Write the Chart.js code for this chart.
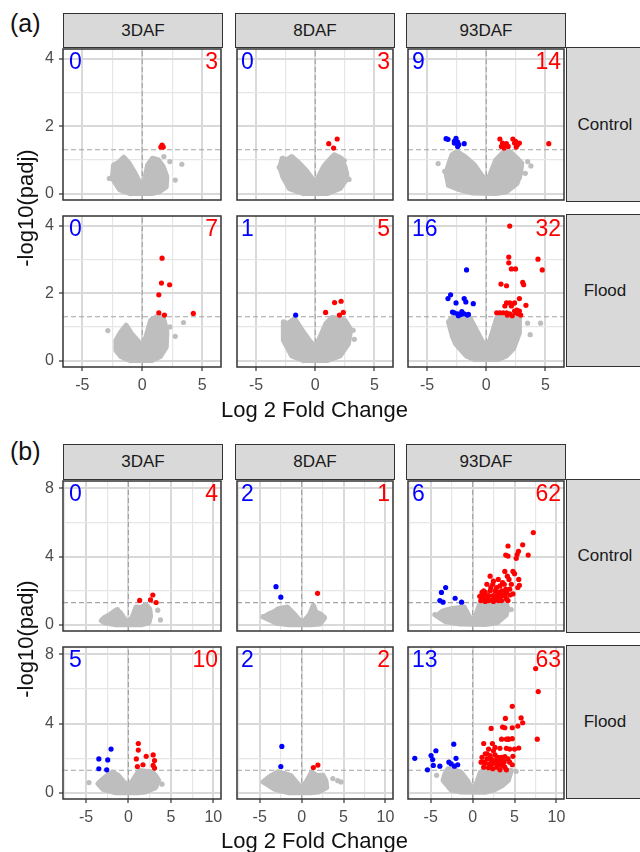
<!DOCTYPE html>
<html>
<head>
<meta charset="utf-8">
<script src="https://cdn.jsdelivr.net/npm/chart.js@4.4.0/dist/chart.umd.min.js"></script>
<style>
body { margin: 0; background: #fff; font-family: "Liberation Sans", Arial, sans-serif; }
#page { position: relative; width: 640px; height: 852px; overflow: hidden; background: #fff; }
canvas { position: absolute; }
.strip { position: absolute; background: #d9d9d9; border: 1px solid #333; box-sizing: border-box;
  display: flex; align-items: center; justify-content: center; font-size: 17px; color: #1a1a1a; }
.cnt { position: absolute; font-size: 23px; line-height: 23px; }
.title { position: absolute; font-size: 22px; color: #111; white-space: nowrap; transform: translate(-50%, -50%); }
.tag { position: absolute; font-size: 25px; color: #111; }
</style>
</head>
<body>
<div id="page"></div>
<script>
// ---- data -------------------------------------------------------------
const stages = ['3DAF', '8DAF', '93DAF'];
const treatments = ['Control', 'Flood'];
const padjCut = 1.3;

// counts shown in each panel (Control 3/8/93, Flood 3/8/93)
const aDown = [0, 0, 9, 0, 1, 16];
const aUp = [3, 3, 14, 7, 5, 32];
const bDown = [0, 2, 6, 5, 2, 13];
const bUp = [4, 1, 62, 10, 2, 63];

// axis ticks
const aXMajor = [-5, 0, 5], aXMinor = [-2.5, 2.5];
const aYMajor = [0, 2, 4], aYMinor = [1, 3];
const bXMajor = [-5, 0, 5, 10], bXMinor = [-7.5, -2.5, 2.5, 7.5];
const bYMajor = [0, 4, 8], bYMinor = [2, 6];

// (a) Control 3DAF
const aC3Cloud = [[-1.0,0.0],[-1.9,0.12],[-2.5,0.45],[-2.4,0.85],[-2.0,0.92],[-1.55,1.08],[-1.1,0.9],[-0.6,0.6],[-0.15,0.28],[0,0.22],[0.15,0.35],[0.45,0.85],[0.85,1.05],[1.35,1.0],[1.75,0.8],[2.05,0.5],[2.0,0.2],[1.4,0.05],[0.8,0.0]];
const aC3Grey = [[3.3,0.87],[2.75,0.4],[-2.75,0.45],[2.3,0.95],[1.8,1.1]];
const aC3Blue = [];
const aC3Red = [[1.55,1.38],[1.65,1.44],[1.75,1.38]];
// (a) Control 8DAF
const aC8Cloud = [[-1.0,0.0],[-2.2,0.15],[-2.75,0.5],[-3.0,0.78],[-2.8,1.05],[-2.4,1.0],[-2.0,1.1],[-1.5,0.95],[-0.8,0.7],[-0.2,0.42],[0,0.35],[0.2,0.45],[0.7,0.8],[1.1,0.97],[1.6,1.15],[2.2,1.05],[2.55,0.75],[2.7,0.45],[2.1,0.15],[1.0,0.0]];
const aC8Grey = [[2.45,0.98],[2.85,0.42],[2.65,0.6],[-3.05,0.78]];
const aC8Blue = [];
const aC8Red = [[1.14,1.48],[1.85,1.62],[1.55,1.35]];
// (a) Control 93DAF
const aC93Cloud = [[-1.2,0.02],[-2.3,0.12],[-3.2,0.24],[-3.4,0.6],[-3.2,0.85],[-2.9,1.15],[-2.5,1.25],[-1.8,1.1],[-1.0,0.85],[-0.3,0.5],[0,0.38],[0.3,0.55],[0.8,1.0],[1.5,1.25],[2.0,1.25],[2.6,1.05],[3.0,0.9],[2.9,0.6],[2.6,0.3],[1.7,0.05],[0.8,0.0]];
const aC93Grey = [[-4.07,0.89],[-3.52,0.66],[3.77,0.82],[3.5,0.95],[2.8,0.48],[3.3,0.6]];
const aC93Blue = [[-3.24,1.61],[-3.4,1.63],[-2.56,1.64],[-2.42,1.53],[-2.7,1.5],[-1.87,1.48],[-2.42,1.4],[-2.7,1.55],[-2.33,1.45]];
const aC93Red = [[1.15,1.62],[1.37,1.5],[1.57,1.43],[1.7,1.48],[1.28,1.4],[2.25,1.62],[2.47,1.55],[2.64,1.45],[2.8,1.5],[2.53,1.38],[5.28,1.48],[1.85,1.4],[2.39,1.5],[1.5,1.35]];
// (a) Flood 3DAF
const aF3Cloud = [[-1.0,0.0],[-1.8,0.12],[-2.2,0.3],[-2.2,0.6],[-1.8,0.85],[-1.35,1.05],[-0.9,0.8],[-0.4,0.6],[0,0.43],[0.3,0.7],[0.7,1.2],[1.2,1.3],[1.75,1.3],[2.05,0.85],[2.0,0.4],[1.5,0.12],[0.8,0.0]];
const aF3Grey = [[-2.88,0.89],[2.75,0.72],[3.44,1.13],[2.3,1.0],[-2.0,0.27]];
const aF3Blue = [];
const aF3Red = [[1.65,3.04],[1.6,2.3],[2.28,2.25],[1.38,1.95],[1.38,1.42],[1.85,1.35],[4.26,1.4]];
// (a) Flood 8DAF
const aF8Cloud = [[-1.0,0.0],[-2.0,0.14],[-2.7,0.6],[-2.7,1.15],[-2.3,1.1],[-1.75,1.25],[-1.2,0.95],[-0.5,0.6],[0,0.39],[0.4,0.7],[0.9,1.1],[1.4,1.28],[2.0,1.25],[2.5,1.2],[3.0,0.92],[2.8,0.5],[2.1,0.14],[1.0,0.0]];
const aF8Grey = [[3.3,0.63],[3.2,0.9]];
const aF8Blue = [[-1.66,1.35]];
const aF8Red = [[1.63,1.72],[2.18,1.76],[0.87,1.43],[2.37,1.43],[2.04,1.35]];
// (a) Flood 93DAF
const aF93Cloud = [[-1.0,0.03],[-1.7,0.14],[-2.6,0.5],[-2.85,0.7],[-3.2,1.15],[-2.9,1.28],[-1.4,1.28],[-0.9,0.95],[-0.3,0.55],[0,0.39],[0.3,0.6],[0.9,1.28],[2.8,1.28],[2.8,0.82],[2.3,0.35],[1.7,0.14],[1.0,0.03]];
const aF93Grey = [[3.49,1.11],[4.59,1.11],[3.71,0.77]];
const aF93Blue = [[-1.67,2.69],[-3.02,1.95],[-3.24,1.84],[-2.56,1.71],[-1.87,1.84],[-1.73,1.74],[-1.1,1.69],[-2.7,1.42],[-2.42,1.39],[-2.15,1.37],[-1.87,1.39],[-1.51,1.37],[-2.36,1.33],[-2.86,1.44],[-2.07,1.45],[-1.6,1.35]];
const aF93Red = [[1.98,3.99],[1.9,3.07],[1.9,2.9],[4.37,3.01],[4.73,2.69],[2.12,2.72],[2.47,2.72],[1.24,2.27],[1.71,2.22],[3.08,2.32],[3.16,2.25],[2.8,1.84],[1.71,1.71],[1.98,1.71],[2.19,1.67],[2.39,1.71],[3.35,1.64],[0.88,1.42],[1.43,1.42],[1.71,1.42],[1.98,1.39],[2.19,1.33],[2.5,1.42],[2.69,1.39],[2.91,1.35],[2.12,1.62],[1.57,1.62],[2.59,1.5],[2.8,1.47],[1.15,1.42],[1.78,1.35],[2.39,1.47]];

// (b) Control 3DAF
const bC3Cloud = [[-1.5,0.0],[-2.8,0.12],[-3.2,0.25],[-2.8,0.45],[-2.2,0.6],[-1.5,0.85],[-1.0,0.75],[-0.4,0.3],[0,0.12],[0.4,0.4],[0.9,1.05],[1.5,1.0],[2.0,1.2],[2.5,0.95],[2.6,0.5],[2.4,0.12],[1.5,0.0]];
const bC3Grey = [[3.45,0.86],[3.77,0.29],[-1.3,0.9]];
const bC3Blue = [];
const bC3Red = [[1.32,1.43],[2.87,1.75],[2.6,1.46],[3.26,1.31]];
// (b) Control 8DAF
const bC8Cloud = [[-1.5,0.0],[-3.0,0.1],[-4.5,0.45],[-4.0,0.62],[-3.2,0.8],[-2.8,0.95],[-1.7,1.05],[-1.0,0.7],[-0.3,0.3],[0,0.08],[0.4,0.3],[1.0,0.65],[1.4,1.15],[1.7,0.75],[2.2,0.65],[2.75,0.42],[2.2,0.05],[1.0,0.0]];
const bC8Grey = [[-4.6,0.48]];
const bC8Blue = [[-3.06,2.24],[-2.48,1.62]];
const bC8Red = [[1.9,1.85]];
// (b) Control 93DAF
const bC93Cloud = [[-1.5,0.05],[-3.3,0.2],[-4.3,0.53],[-3.6,0.8],[-2.6,0.95],[-1.0,1.05],[-0.4,0.5],[0,0.19],[0.4,0.6],[0.9,1.3],[4.0,1.3],[4.2,0.95],[4.0,0.57],[2.9,0.12],[1.5,0.02]];
const bC93Grey = [[4.6,0.9],[-4.5,0.6]];
const bC93Blue = [[-3.72,1.9],[-3.22,2.19],[-3.91,1.42],[-3.53,1.33],[-2.09,1.56],[-1.32,1.33]];
const bC93Red = [[7.24,5.41],[5.97,4.69],[4.22,4.62],[5.47,4.31],[5.31,4.12],[6.63,4.09],[3.95,4.09],[4.22,4.03],[5.2,3.9],[3.84,3.13],[4.81,3.13],[2.09,2.85],[2.48,2.56],[3.06,2.66],[4.34,2.66],[5.5,2.66],[1.7,2.38],[2.4,2.38],[3.26,2.28],[3.77,2.38],[5.39,2.19],[4.43,2.09],[1.12,1.9],[1.5,1.9],[2.09,2.0],[2.67,2.0],[3.06,1.9],[3.45,2.0],[4.03,1.9],[1.32,1.71],[1.9,1.71],[2.48,1.71],[2.87,1.75],[3.26,1.62],[3.84,1.71],[4.43,1.75],[1.24,1.52],[1.7,1.52],[2.29,1.46],[2.79,1.52],[3.45,1.42],[4.03,1.52],[0.85,1.67],[2.48,1.37],[3.06,1.42],[4.22,1.42],[1.5,1.37],[3.65,1.71],[2.17,2.19],[2.87,2.19],[5.0,3.0],[4.14,2.85],[3.57,2.47],[4.81,1.81],[1.9,1.42],[2.67,1.56],[1.32,2.0],[3.45,1.81],[4.62,2.38],[5.58,2.32],[3.95,2.09],[0.98,1.42]];
// (b) Flood 3DAF
const bF3Cloud = [[-1.5,0.0],[-3.0,0.2],[-3.6,0.53],[-3.0,0.8],[-2.5,1.0],[-1.86,1.2],[-1.2,1.0],[-0.5,0.6],[0,0.45],[0.5,0.7],[1.24,1.29],[2.0,1.25],[2.79,1.2],[3.2,1.0],[3.57,0.71],[3.2,0.3],[2.0,0.05],[1.0,0.0]];
const bF3Grey = [[-4.65,0.59],[3.95,0.5]];
const bF3Blue = [[-2.05,2.53],[-3.49,1.96],[-2.44,1.9],[-3.49,1.39],[-2.56,1.33]];
const bF3Red = [[1.16,2.85],[1.16,2.47],[2.09,2.11],[2.91,2.19],[0.93,1.96],[3.07,1.86],[1.05,1.52],[1.71,1.62],[2.91,1.58],[3.07,1.43]];
// (b) Flood 8DAF
const bF8Cloud = [[-1.5,0.0],[-3.2,0.2],[-4.6,0.63],[-3.8,0.95],[-2.86,1.2],[-2.0,1.1],[-1.31,1.01],[-0.6,0.6],[0,0.25],[0.5,0.6],[1.21,1.2],[1.8,1.0],[2.56,1.01],[2.9,0.7],[3.0,0.3],[2.0,0.05],[1.0,0.0]];
const bF8Grey = [[3.72,0.82],[4.7,0.63],[4.3,0.7]];
const bF8Blue = [[-2.36,2.68],[-2.48,1.52]];
const bF8Red = [[1.4,1.46],[1.94,1.6]];
// (b) Flood 93DAF
const bF93Cloud = [[-1.5,0.05],[-2.56,0.15],[-3.53,0.72],[-3.3,1.1],[-2.94,1.39],[-2.0,1.3],[-1.4,1.2],[-0.6,0.7],[0,0.15],[0.5,0.6],[0.93,1.2],[2.0,1.3],[3.26,1.33],[4.62,1.29],[4.26,0.72],[3.5,0.4],[2.52,0.15],[1.5,0.03]];
const bF93Grey = [[-4.3,1.01],[5.19,1.24]];
const bF93Blue = [[-6.9,1.99],[-4.38,2.43],[-4.96,2.15],[-4.77,1.92],[-2.25,2.81],[-1.98,1.99],[-2.83,1.77],[-2.56,1.67],[-2.17,1.54],[-1.78,1.62],[-4.69,1.58],[-3.91,1.54],[-5.39,1.33]];
const bF93Red = [[7.52,7.18],[7.83,5.85],[4.73,5.0],[3.91,4.3],[5.78,4.33],[5.97,4.05],[5.39,3.86],[3.57,3.8],[3.84,3.76],[4.73,3.76],[2.21,3.72],[7.71,3.1],[3.45,3.1],[4.03,3.1],[4.73,3.13],[4.3,3.1],[1.32,2.85],[2.36,2.85],[5.5,2.59],[1.9,2.53],[2.48,2.43],[3.26,2.57],[4.03,2.57],[4.42,2.53],[1.51,2.25],[2.09,2.15],[2.67,2.19],[3.45,2.05],[3.06,2.05],[3.84,2.09],[4.81,2.11],[1.12,2.05],[1.71,1.96],[2.29,1.9],[2.87,1.96],[3.64,1.86],[4.22,1.96],[1.01,1.77],[1.51,1.71],[2.02,1.67],[2.56,1.71],[3.06,1.64],[3.57,1.71],[4.73,1.62],[1.32,1.48],[1.9,1.45],[2.4,1.39],[2.87,1.48],[3.84,1.48],[4.03,1.33],[3.26,1.33],[2.17,1.58],[2.79,1.77],[3.18,1.9],[1.71,2.25],[2.67,2.62],[4.22,3.1],[3.45,1.58],[3.76,1.77],[2.17,1.96],[1.32,1.77],[4.42,1.77],[5.0,2.53]];

// ---- layout -----------------------------------------------------------
const GREY = '#bebebe', RED = '#ff0000', BLUE = '#0000ff';
const COLS = [63, 235, 406], PW = 160;
const page = document.getElementById('page');

const figA = {
  tag: '(a)', tagTop: 9, stripTop: 13, stripH: 35,
  rows: [[47, 155], [214, 153]],
  xMin: -6.62, xMax: 6.57, yMin: -0.19, yMax: 4.29,
  xMajor: aXMajor, xMinor: aXMinor, yMajor: aYMajor, yMinor: aYMinor,
  xTitleY: 410, yTitleY: 208,
  down: aDown, up: aUp,
  sets: [
    [aC3Cloud, aC3Grey, aC3Blue, aC3Red], [aC8Cloud, aC8Grey, aC8Blue, aC8Red], [aC93Cloud, aC93Grey, aC93Blue, aC93Red],
    [aF3Cloud, aF3Grey, aF3Blue, aF3Red], [aF8Cloud, aF8Grey, aF8Blue, aF8Red], [aF93Cloud, aF93Grey, aF93Blue, aF93Red]
  ]
};
const figB = {
  tag: '(b)', tagTop: 437, stripTop: 444, stripH: 36,
  rows: [[479, 154], [645, 154]],
  xMin: -7.71, xMax: 10.9, yMin: -0.36, yMax: 8.43,
  xMajor: bXMajor, xMinor: bXMinor, yMajor: bYMajor, yMinor: bYMinor,
  xTitleY: 841, yTitleY: 639,
  down: bDown, up: bUp,
  sets: [
    [bC3Cloud, bC3Grey, bC3Blue, bC3Red], [bC8Cloud, bC8Grey, bC8Blue, bC8Red], [bC93Cloud, bC93Grey, bC93Blue, bC93Red],
    [bF3Cloud, bF3Grey, bF3Blue, bF3Red], [bF8Cloud, bF8Grey, bF8Blue, bF8Red], [bF93Cloud, bF93Grey, bF93Blue, bF93Red]
  ]
};

const toXY = arr => arr.map(p => ({ x: p[0], y: p[1] }));

// panel frame (theme_bw border)
const panelBorder = {
  id: 'panelBorder',
  afterDraw(chart) {
    const a = chart.chartArea, c = chart.ctx;
    c.save();
    c.strokeStyle = '#333';
    c.lineWidth = 1.5;
    c.strokeRect(a.left, a.top, a.right - a.left, a.bottom - a.top);
    c.restore();
  }
};

function addDiv(cls, text, css) {
  const d = document.createElement('div');
  d.className = cls;
  d.textContent = text;
  Object.assign(d.style, css);
  page.appendChild(d);
  return d;
}

function makePanel(fig, r, c) {
  const [cloud, grey, blue, red] = fig.sets[r * 3 + c];
  const showY = c === 0, showX = r === 1;
  const left = COLS[c], top = fig.rows[r][0], h = fig.rows[r][1];
  const yw = showY ? 43 : 0, xh = showX ? 32 : 0;

  const cv = document.createElement('canvas');
  cv.width = PW + 4 + yw; cv.height = h + 4 + xh;
  cv.style.width = cv.width + 'px'; cv.style.height = cv.height + 'px';
  cv.style.left = (left - 2 - yw) + 'px'; cv.style.top = (top - 2) + 'px';
  page.appendChild(cv);

  const xTicks = fig.xMajor.concat(fig.xMinor).sort((p, q) => p - q);
  const yTicks = fig.yMajor.concat(fig.yMinor).sort((p, q) => p - q);
  const cloudPts = toXY(cloud.concat([cloud[0]]));
  const isMaj = (list, ctx) => ctx.tick && list.includes(ctx.tick.value);

  new Chart(cv, {
    type: 'scatter',
    data: {
      datasets: [
        { data: toXY(red), backgroundColor: RED, pointRadius: 2.6, borderWidth: 0 },
        { data: toXY(blue), backgroundColor: BLUE, pointRadius: 2.6, borderWidth: 0 },
        { data: toXY(grey), backgroundColor: GREY, pointRadius: 2.6, borderWidth: 0 },
        { type: 'line', data: cloudPts, fill: 'shape', backgroundColor: GREY, borderColor: GREY,
          borderWidth: 5, borderJoinStyle: 'round', borderCapStyle: 'round', pointRadius: 0, tension: 0 },
        { type: 'line', data: [{ x: fig.xMin, y: padjCut }, { x: fig.xMax, y: padjCut }],
          borderColor: '#a3a3a3', borderWidth: 1.1, borderDash: [5, 3], pointRadius: 0, fill: false },
        { type: 'line', data: [{ x: 0, y: fig.yMin }, { x: 0, y: fig.yMax }],
          borderColor: '#a3a3a3', borderWidth: 1.1, borderDash: [5, 3], pointRadius: 0, fill: false }
      ]
    },
    options: {
      responsive: false, animation: false, events: [],
      layout: { padding: 2 },
      plugins: { legend: { display: false }, tooltip: { enabled: false } },
      scales: {
        x: {
          type: 'linear', min: fig.xMin, max: fig.xMax,
          afterBuildTicks: s => { s.ticks = xTicks.map(v => ({ value: v })); },
          afterFit: s => { s.height = xh; s.paddingLeft = 0; s.paddingRight = 0; },
          border: { display: false },
          grid: {
            color: ctx => isMaj(fig.xMajor, ctx) ? '#d9d9d9' : '#e6e6e6',
            lineWidth: ctx => isMaj(fig.xMajor, ctx) ? 2 : 1.2,
            drawTicks: showX, tickLength: 4, tickWidth: 1.2,
            tickColor: ctx => isMaj(fig.xMajor, ctx) ? '#333' : 'rgba(0,0,0,0)'
          },
          ticks: {
            display: showX, autoSkip: false, maxRotation: 0, padding: 5,
            color: '#4d4d4d', font: { family: 'Liberation Sans', size: 16 },
            callback: v => fig.xMajor.includes(v) ? String(v) : ''
          }
        },
        y: {
          type: 'linear', min: fig.yMin, max: fig.yMax,
          afterBuildTicks: s => { s.ticks = yTicks.map(v => ({ value: v })); },
          afterFit: s => { s.width = yw; s.paddingTop = 0; s.paddingBottom = 0; },
          border: { display: false },
          grid: {
            color: ctx => isMaj(fig.yMajor, ctx) ? '#d9d9d9' : '#e6e6e6',
            lineWidth: ctx => isMaj(fig.yMajor, ctx) ? 2 : 1.2,
            drawTicks: showY, tickLength: 4, tickWidth: 1.2,
            tickColor: ctx => isMaj(fig.yMajor, ctx) ? '#333' : 'rgba(0,0,0,0)'
          },
          ticks: {
            display: showY, autoSkip: false, padding: 5,
            color: '#4d4d4d', font: { family: 'Liberation Sans', size: 16 },
            callback: v => fig.yMajor.includes(v) ? String(v) : ''
          }
        }
      }
    },
    plugins: [panelBorder]
  });

  // significant gene counts
  addDiv('cnt', String(fig.down[r * 3 + c]), { left: (left + 6) + 'px', top: (top + 3) + 'px', color: BLUE });
  const upDiv = addDiv('cnt', String(fig.up[r * 3 + c]), { top: (top + 3) + 'px', color: RED });
  upDiv.style.right = (640 - (left + PW) + 5) + 'px';
}

function makeFigure(fig) {
  addDiv('tag', fig.tag, { left: '10px', top: fig.tagTop + 'px' });
  stages.forEach((s, c) => {
    addDiv('strip', s, { left: COLS[c] + 'px', top: fig.stripTop + 'px', width: PW + 'px', height: fig.stripH + 'px' });
  });
  treatments.forEach((t, r) => {
    addDiv('strip', t, { left: (COLS[2] + PW) + 'px', top: fig.rows[r][0] + 'px', width: '78px', height: fig.rows[r][1] + 'px' });
  });
  for (let r = 0; r < 2; r++) for (let c = 0; c < 3; c++) makePanel(fig, r, c);
  addDiv('title', 'Log 2 Fold Change', { left: ((COLS[0] + COLS[2] + PW) / 2) + 'px', top: fig.xTitleY + 'px' });
  const yt = addDiv('title', '-log10(padj)', { left: '26px', top: fig.yTitleY + 'px' });
  yt.style.transform = 'translate(-50%, -50%) rotate(-90deg)';
}

makeFigure(figA);
makeFigure(figB);
</script>
</body>
</html>
